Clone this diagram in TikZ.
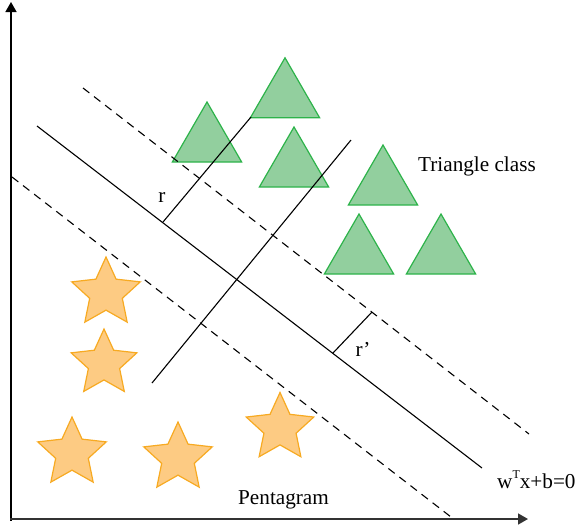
\documentclass[tikz,border=0pt]{standalone}
\usepackage{fontspec}
\setmainfont{Liberation Serif}
\usetikzlibrary{shapes.geometric,arrows.meta}
\definecolor{triFill}{HTML}{92CF9E}
\definecolor{triLine}{HTML}{2DB34A}
\definecolor{starFill}{HTML}{FDCB83}
\definecolor{starLine}{HTML}{F7AA22}
\definecolor{axisGray}{HTML}{333333}
\tikzset{
  tri/.style={regular polygon, regular polygon sides=3, minimum size=80pt, inner sep=0pt, outer sep=0pt, fill=triFill, draw=triLine, line width=1.2pt},
  starshape/.style={star, star points=5, star point ratio=2.1, minimum size=#1, inner sep=0pt, outer sep=0pt, fill=starFill, draw=starLine, line width=1.2pt},
  axisline/.style={line width=1.6pt, -{Triangle[length=10pt,width=11pt]}},
  sepline/.style={line width=1.1pt, black},
  margin/.style={line width=1.1pt, black, dash pattern=on 8pt off 6pt},
  lbl/.style={font=\fontsize{21.2}{25}\selectfont, inner sep=0pt},
}
\begin{document}
\begin{tikzpicture}[x=1pt,y=-1pt]
\useasboundingbox (0,0) rectangle (586,531);
% triangles
\node[tri] (t1) at (285,97.8) {};
\node[tri] (t2) at (207,142) {};
\node[tri] (t3) at (294,167) {};
\node[tri] (t4) at (383,185) {};
\node[tri] (t5) at (359,254) {};
\node[tri] (t6) at (441,254) {};
% stars
\node[starshape=72pt] (s1) at (106,293) {};
\node[starshape=69pt] (s2) at (104,363.5) {};
\node[starshape=72pt] (s3) at (72,453) {};
\node[starshape=72pt] (s4) at (178,458) {};
\node[starshape=71pt] (s5) at (280,428) {};
% axes
\coordinate (o) at (11,519);
\coordinate (ytip) at (11,2);
\coordinate (xtip) at (528,519);
\draw[axisline, black] (11,520.5) -- (ytip);
\draw[axisline, axisGray] (10,519) -- (xtip);
% separating lines
\coordinate (m1) at (37,126);
\coordinate (m2) at (482,468);
\coordinate (u1) at (83,88);
\coordinate (u2) at (529,434);
\coordinate (l1) at (12,177);
\coordinate (l2) at (451,517);
\draw[sepline] (m1) -- (m2);
\draw[margin] (u1) -- (u2);
\draw[margin] (l1) -- (l2);
% perpendiculars
\coordinate (p1a) at (163,222);
\coordinate (p1b) at (251,117);
\coordinate (p2a) at (152,383);
\coordinate (p2b) at (351,140);
\coordinate (ra) at (333,353);
\coordinate (rb) at (372,312);
\draw[sepline] (p1a) -- (p1b);
\draw[sepline] (p2a) -- (p2b);
\draw[sepline] (ra) -- (rb);
% labels
\node[lbl] (r) at (162,197) {r};
\node[lbl] (rp) at (363,349) {r’};
\node[lbl, anchor=base west] (tc) at (418,171) {Triangle class};
\node[lbl, anchor=base west] (pg) at (238,504) {Pentagram};
\node[lbl, anchor=base west] (eq) at (497,488) {w\raisebox{0.45em}{\fontsize{12}{12}\selectfont T}x+b=0};
\end{tikzpicture}
\end{document}
